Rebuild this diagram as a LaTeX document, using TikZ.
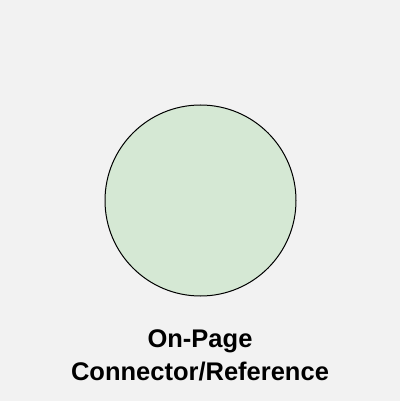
\documentclass[tikz,border=0pt]{standalone}
\usepackage{fontspec}
\setmainfont{Liberation Sans}
\usetikzlibrary{positioning}
\definecolor{pagebg}{HTML}{F2F2F2}
\definecolor{connfill}{HTML}{D5E8D4}
\tikzset{
    connector/.style={circle, draw=black, fill=connfill, line width=1pt, minimum size=191pt, inner sep=0pt},
    caption/.style={anchor=base, font=\bfseries\fontsize{25.5}{33}\selectfont, inner sep=0pt}
}

\begin{document}
\begin{tikzpicture}[x=1pt, y=-1pt]
    \fill[pagebg] (0,0) rectangle (400,401);
    \useasboundingbox (0,0) rectangle (400,401);
    \node[connector] (ref) at (200.5,200.5) {};
    \node[caption] (line1) at (200,347) {On-Page};
    \node[caption] (line2) at (200,380) {Connector/Reference};
\end{tikzpicture}
\end{document}
